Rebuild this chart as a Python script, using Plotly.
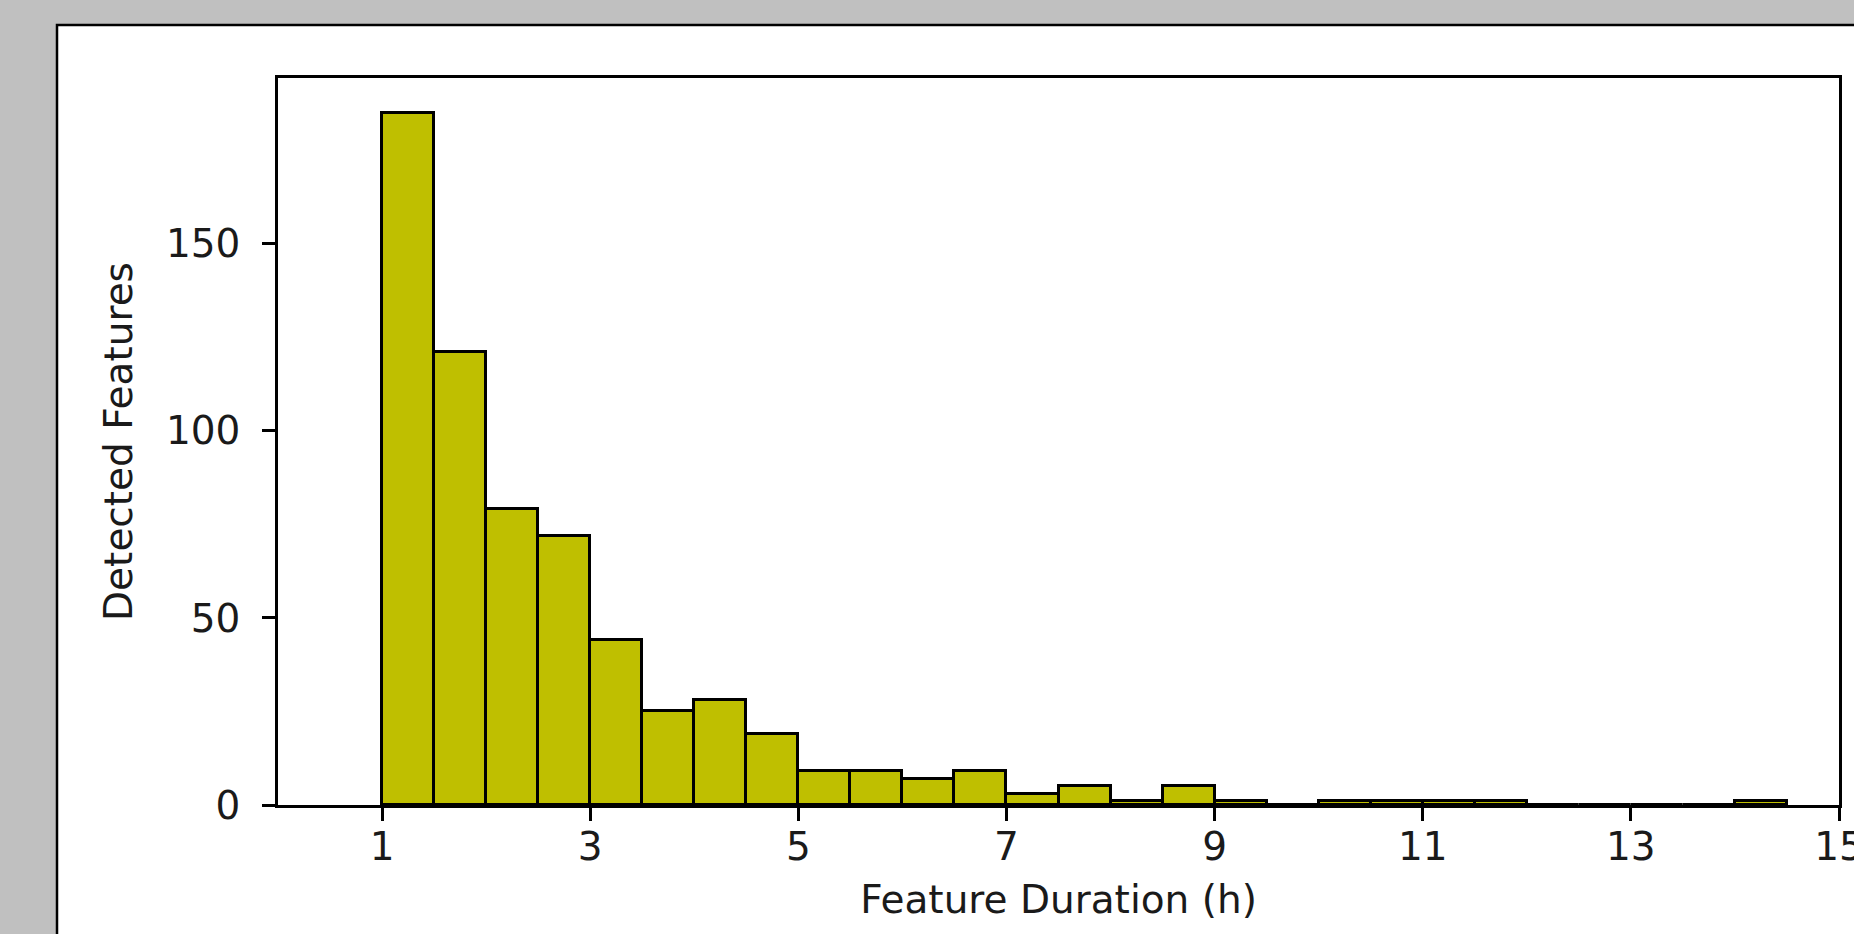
import plotly.graph_objects as go

# Histogram data (bin width 0.5 h)
bin_starts = [1.0, 1.5, 2.0, 2.5, 3.0, 3.5, 4.0, 4.5, 5.0, 5.5, 6.0, 6.5, 7.0, 7.5,
              8.0, 8.5, 9.0, 9.5, 10.0, 10.5, 11.0, 11.5, 12.0, 12.5, 13.0, 13.5, 14.0]
counts = [185, 121, 79, 72, 44, 25, 28, 19, 9, 9, 7, 9, 3, 5,
          1, 5, 1, 0, 1, 1, 1, 1, 0, 0, 0, 0, 1]
bin_width = 0.5

x_ticks = [1, 3, 5, 7, 9, 11, 13, 15]
y_ticks = [0, 50, 100, 150]
x_title = "Feature Duration (h)"
y_title = "Detected Features"

W, H = 1854, 934
L, R, T, B = 278, 15, 78, 129
pw = W - L - R
ph = H - T - B

FONT = dict(family="DejaVu Sans", size=39, color="#1a1a1a")

fig = go.Figure()
fig.add_trace(go.Bar(
    x=bin_starts, y=counts, width=bin_width, offset=0,
    marker=dict(color="#bfbf00", line=dict(color="black", width=3)),
    showlegend=False, hoverinfo="x+y",
))

# white panel on grey page
fig.add_shape(type="rect", xref="paper", yref="paper", layer="below",
              x0=(57 - L) / pw, x1=1.2,
              y0=-0.3, y1=(H - B - 25) / ph,
              fillcolor="white", line=dict(color="black", width=2.5))

axis_common = dict(showline=True, linecolor="black", linewidth=2.5, mirror=True,
                   ticks="outside", ticklen=13, tickwidth=2.5, tickcolor="black",
                   showgrid=False, zeroline=False, tickfont=FONT,
                   title_font=FONT, ticklabeloverflow="allow", automargin=False)

fig.update_xaxes(range=[0, 15], tickmode="array", tickvals=x_ticks,
                 title_text=x_title, title_standoff=19, ticklabelstandoff=-8,
                 **axis_common)
fig.update_yaxes(range=[0, 194.25], tickmode="array", tickvals=y_ticks,
                 title_text=y_title, title_standoff=22, ticklabelstandoff=14,
                 **axis_common)

fig.update_layout(
    width=W, height=H, autosize=False,
    margin=dict(l=L, r=R, t=T, b=B, pad=0, autoexpand=False),
    paper_bgcolor="#c0c0c0", plot_bgcolor="white",
    bargap=0, font=FONT,
)

fig.write_html(
    "out.html",
    config={"displayModeBar": False},
    post_script="document.body.style.margin='0';"
                "document.body.style.overflow='hidden';"
                "document.body.style.background='#c0c0c0';",
)
